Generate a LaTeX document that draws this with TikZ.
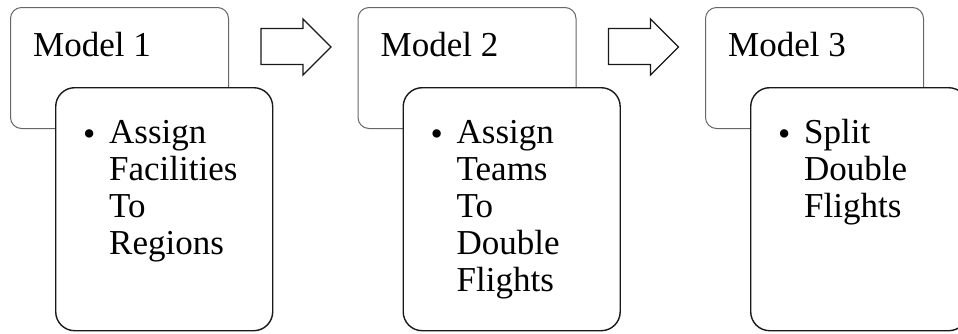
\documentclass[tikz,border=0pt]{standalone}
\usepackage{fontspec}
\setmainfont{Liberation Serif}
\begin{document}
\begin{tikzpicture}[x=1pt,y=-1pt,
  upperbox/.style={draw=black!60, line width=1pt, fill=white, rounded corners=11pt,
    minimum width=218pt, minimum height=121pt, anchor=north west, inner sep=0pt},
  lowerbox/.style={draw=black!90, line width=1.4pt, fill=white, rounded corners=19pt,
    minimum width=217pt, minimum height=243pt, anchor=north west, inner sep=0pt},
  txt/.style={font=\fontsize{35}{37}\selectfont, inner sep=0pt, anchor=base west, align=left},
  blockarrow/.style={draw=black!90, line width=1.3pt, fill=white, line join=miter}]
\useasboundingbox (0,0) rectangle (958,333);
\clip (0,0) rectangle (958,333);
\foreach \i/\title/\lines in {1/Model 1/{Assign\\Facilities\\To\\Regions},
                              2/Model 2/{Assign\\Teams\\To\\Double\\Flights},
                              3/Model 3/{Split\\Double\\Flights}} {
  % header card
  \node[upperbox] (u\i) at ({10+347.5*(\i-1)},7) {};
  \node[txt] (t\i) at ([shift={(23,49)}]u\i.north west) {\title};
  % detail card overlapping the header
  \node[lowerbox] (l\i) at ({55+347.5*(\i-1)},87) {};
  \node[txt] (b\i) at ([shift={(28,56)}]l\i.north west) {\raisebox{-2.5pt}{\textbullet}};
  % list text: the strut fixes the top so the first baseline sits 25pt below it
  \node[txt, anchor=north west] (d\i) at ([shift={(54,31)}]l\i.north west)
    {\rule{0pt}{25pt}\lines};
}
% block arrows between the header cards
\foreach \i in {1,2} {
  \begin{scope}[shift={(u\i.north east)}]
    \draw[blockarrow] (32,21.5) -- (74,21.5) -- (74,12) -- (102,40) -- (74,68)
      -- (74,57.5) -- (32,57.5) -- cycle;
  \end{scope}
}
\end{tikzpicture}
\end{document}
